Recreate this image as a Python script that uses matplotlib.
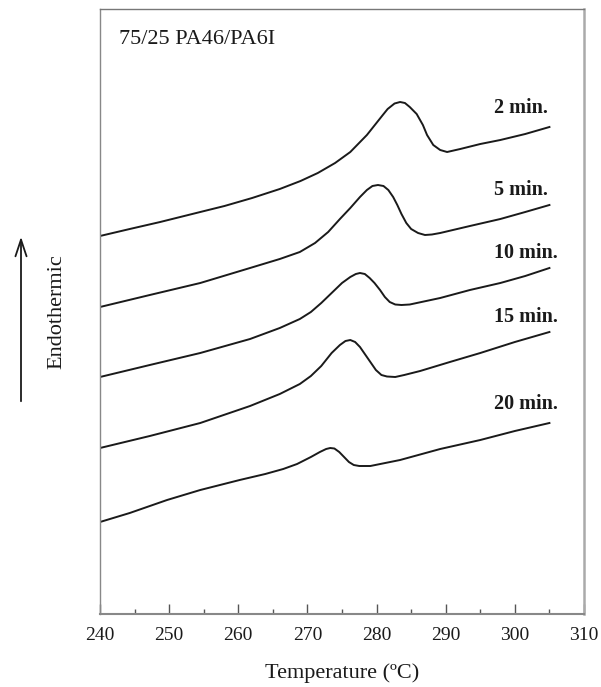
import matplotlib
matplotlib.use("Agg")
import matplotlib.pyplot as plt
from matplotlib.ticker import MultipleLocator

plt.rcParams['font.family'] = ['Liberation Serif', 'DejaVu Serif']

# DSC heating scans of 75/25 PA46/PA6I after different annealing times
# temperature in degC, signal in arbitrary units (endo up)
t_2min = [240.0, 244.3, 248.7, 254.5, 258.0, 262.0, 266.0, 269.0, 271.5, 274.0, 276.2,
          278.6, 280.9, 281.6, 282.6, 283.4, 284.1, 284.8, 285.8, 286.7, 287.3, 288.2,
          289.2, 290.2, 292.1, 295.0, 297.9, 301.5, 305.0]
s_2min = [378, 385, 392, 402, 408, 416, 425, 433, 441, 451, 462,
          479, 499, 505, 510.5, 512, 511, 507, 500, 489, 479, 469,
          464, 462, 465, 470, 474, 480, 487]

t_5min = [240.0, 247.2, 254.5, 261.7, 266.0, 268.9, 271.1, 273.0, 274.7, 276.2, 277.6,
          278.6, 279.4, 280.2, 281.0, 281.7, 282.4, 283.0, 283.6, 284.3, 285.0, 286.0,
          287.0, 288.0, 289.2, 293.5, 297.9, 301.5, 305.0]
s_5min = [307, 319, 331, 346, 355, 362, 371, 382, 395, 406, 417,
          424, 428, 429, 428, 424, 417, 409, 400, 391, 385, 381,
          379, 379.5, 381, 388, 395, 402, 409]

t_10min = [240.0, 247.2, 254.5, 261.7, 266.0, 268.9, 270.5, 272.0, 273.5, 275.0, 276.2,
           277.0, 277.6, 278.3, 279.0, 279.7, 280.5, 281.2, 281.9, 282.7, 283.6, 284.8,
           289.2, 293.5, 297.9, 301.5, 305.0]
s_10min = [237, 249, 261, 275, 286, 295, 302, 311, 321, 331, 337,
           340, 341, 340, 336, 331, 324, 317, 312, 309.5, 309, 309.5,
           316, 324, 331, 338, 346]

t_15min = [240.0, 247.2, 254.5, 261.7, 266.0, 268.9, 270.5, 272.0, 273.5, 274.7, 275.5,
           276.2, 276.9, 277.6, 278.3, 279.1, 279.9, 280.7, 281.5, 282.7, 284.0, 286.3,
           290.6, 295.0, 300.0, 305.0]
s_15min = [166, 178, 191, 208, 220, 230, 238, 248, 261, 269, 273,
           274, 272, 267, 260, 252, 244, 239, 237.5, 237, 239, 243,
           252, 261, 272, 282]

t_20min = [240.0, 244.3, 249.7, 254.5, 260.2, 263.9, 266.5, 268.5, 270.5, 271.8, 272.7,
           273.3, 273.9, 274.6, 275.3, 276.0, 276.7, 277.5, 279.1, 283.4, 289.2, 295.0,
           300.0, 305.0]
s_20min = [92, 101, 114, 124, 134, 140, 145, 150, 157, 162, 165,
           166, 165.5, 162, 157, 152, 149, 148, 148, 154, 165, 174,
           183, 191]

labels = ['2 min.', '5 min.', '10 min.', '15 min.', '20 min.']
label_y = [506, 424, 361, 297, 210]

fig = plt.figure(figsize=(6.01, 6.87), dpi=100)
ax = fig.add_axes([100 / 601, 73 / 687, 484 / 601, 605 / 687])

curves = [(t_2min, s_2min), (t_5min, s_5min), (t_10min, s_10min),
          (t_15min, s_15min), (t_20min, s_20min)]
for (t, s), lab, ly in zip(curves, labels, label_y):
    ax.plot(t, s, color='#1a1a1a', lw=1.4, solid_joinstyle='round')
    ax.text(297.0, ly, lab, fontsize=14.5, fontweight='bold', ha='left', va='center',
            color='#1a1a1a')

ax.set_xlim(240, 310)
ax.set_ylim(0, 605)
ax.xaxis.set_major_locator(MultipleLocator(10))
ax.xaxis.set_minor_locator(MultipleLocator(5))
ax.set_yticks([])
ax.tick_params(axis='x', which='major', direction='in', length=7.5, width=1,
               color='#555555', labelsize=14, pad=9, labelcolor='#1a1a1a')
ax.tick_params(axis='x', which='minor', direction='in', length=3.8, width=1,
               color='#555555')

ax.spines['left'].set_color('#888888')
ax.spines['left'].set_linewidth(1.0)
ax.spines['top'].set_color('#777777')
ax.spines['top'].set_linewidth(1.0)
ax.spines['right'].set_color('#aaaaaa')
ax.spines['right'].set_linewidth(1.8)
ax.spines['bottom'].set_color('#888888')
ax.spines['bottom'].set_linewidth(1.5)

ax.set_xlabel('Temperature (ºC)', fontsize=16, labelpad=14, color='#1a1a1a')
ax.text(0.039, 0.950, '75/25 PA46/PA6I', transform=ax.transAxes, fontsize=16,
        ha='left', va='center', color='#1a1a1a')

fig.text(57 / 601, 1 - 312 / 687, 'Endothermic', rotation=90, fontsize=16,
         ha='center', va='center', color='#1a1a1a')
fig.patches.append(matplotlib.patches.FancyArrowPatch(
    (21 / 601, 1 - 404 / 687), (21 / 601, 1 - 234 / 687), transform=fig.transFigure,
    arrowstyle='->,head_length=12,head_width=4', mutation_scale=1, color='#1a1a1a', lw=1.3))

fig.savefig('out.png', dpi=100)
